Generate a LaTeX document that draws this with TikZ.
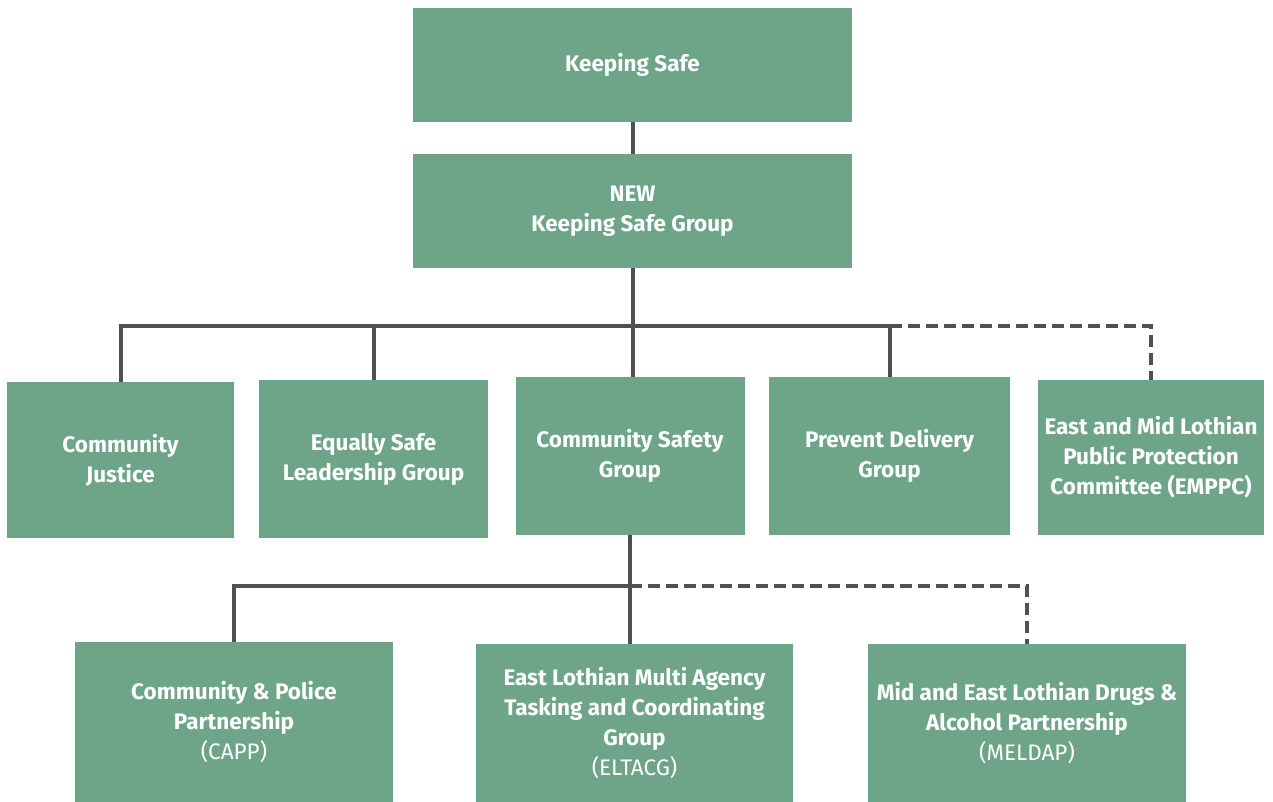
\documentclass[tikz,border=0pt]{standalone}
\usepackage{fontspec}
\setmainfont{Fira Sans}
\usepackage{tikz}
\usetikzlibrary{calc}
\definecolor{boxgreen}{RGB}{110,164,136}
\definecolor{linegrey}{RGB}{80,80,80}

\begin{document}
\begin{tikzpicture}[x=1pt, y=-1pt,
  unit/.style={fill=boxgreen, text=white, align=center, inner sep=0pt,
    font=\bfseries\fontsize{22.5}{30}\selectfont},
  link/.style={draw=linegrey, line width=4pt},
  maybe/.style={link, dash pattern=on 12pt off 6pt}]
  \useasboundingbox (0,0) rectangle (1273,802);
  % top of the tree
  \node[unit, minimum width=439, minimum height=114] (ks) at (632.5,65) {Keeping Safe};
  \node[unit, minimum width=439, minimum height=114] (ksg) at (632.5,211) {NEW\\Keeping Safe Group};
  % groups under the keeping safe group
  \node[unit, minimum width=227, minimum height=156] (cj) at (120.5,460) {Community\\Justice};
  \node[unit, minimum width=229, minimum height=158] (esl) at (373.5,459) {Equally Safe\\Leadership Group};
  \node[unit, minimum width=229, minimum height=158] (csg) at (630,456) {Community Safety\\Group};
  \node[unit, minimum width=241, minimum height=158] (pdg) at (889.5,456) {Prevent Delivery\\Group};
  \node[unit, minimum width=226, minimum height=155] (emppc) at (1151,457.5) {East and Mid Lothian\\Public Protection\\Committee (EMPPC)};
  % partnerships under the community safety group
  \node[unit, minimum width=318, minimum height=160] (capp) at (234,722) {Community \& Police\\Partnership\\{\mdseries (CAPP)}};
  \node[unit, minimum width=317, minimum height=158] (eltacg) at (634.5,723) {East Lothian Multi Agency\\Tasking and Coordinating\\Group\\{\mdseries (ELTACG)}};
  \node[unit, minimum width=318, minimum height=158] (meldap) at (1027,723) {Mid and East Lothian Drugs \&\\Alcohol Partnership\\{\mdseries (MELDAP)}};
  % connectors
  \coordinate (bus) at (632,326);
  \coordinate (subbus) at ($(csg.south)+(0,51)$);
  \draw[link] (ks.south) -- (ksg.north);
  \draw[link] (ksg.south) -- (ksg.south |- csg.north);
  \draw[link] (cj.north) |- (bus) -- (pdg.north |- bus) -- (pdg.north);
  \draw[link] (esl.north) -- (esl.north |- bus);
  \draw[maybe] (pdg.north |- bus) -| (emppc.north);
  \draw[link] (csg.south) -- (csg.south |- eltacg.north);
  \draw[link] (capp.north) |- (subbus);
  \draw[maybe] (subbus) -| (meldap.north);
\end{tikzpicture}
\end{document}
